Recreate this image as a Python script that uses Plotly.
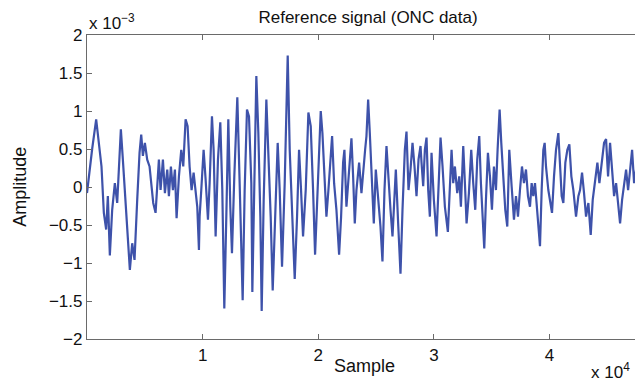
import plotly.graph_objects as go

# Sample index (turning points) and amplitude in units of 1e-3
samples_a = [1,159,447,794,1024,1255,1457,1659,1804,1977,2179,2410,2612,2756,2929,3102,3275,3478,3708,3910,
             4112,4343,4545,4690,4834,5007,5209,5411,5584,5729,5931,6075,6219,6364,6566,6739,6941,7085,7258,7431,
             7604,7749,7951,8153,8326,8528,8701,8874,9047,9221,9394,9538,9682]
amp_a = [-0.08,0.14,0.5,0.89,0.54,0.27,-0.34,-0.56,-0.12,-0.9,-0.3,0.05,-0.21,0.27,0.76,0.36,-0.08,-0.56,-1.09,-0.74,
         -0.96,-0.17,0.45,0.69,0.41,0.58,0.36,0.27,0.05,-0.21,-0.34,0.05,0.36,-0.04,0.36,-0.08,0.23,-0.12,0.27,-0.04,
         0.23,-0.41,0.14,0.49,0.27,0.89,0.80,0.27,-0.04,0.19,-0.08,-0.26,-0.83]

samples_b = [9740,9884,10086,10259,10462,10606,10808,10952,11125,11327,11529,11702,11876,12049,12222,12395,12539,12741,13001,13203,
             13463,13636,13838,14011,14213,14300,14444,14646,14819,14993,15108,15281,15512,15685,15887,16060,16262,16493,16666,16868,
             17099,17359,17532,17763,17965,18167,18340,18513,18687,18917,19148,19350]
amp_b = [-0.39,-0.04,0.49,0.10,-0.43,0.05,0.93,0.49,-0.65,0.36,0.85,-0.04,-1.6,-0.39,0.89,-0.26,-0.87,0.14,1.18,0.05,
         -1.49,-0.04,1.02,0.93,0.05,-1.38,-0.08,1.46,0.71,-0.39,-1.63,-0.17,1.15,0.49,-0.39,-1.36,-0.39,0.58,-0.04,-1.05,
         0.05,1.73,0.49,-0.39,-1.21,-0.39,0.49,-0.04,-0.65,-0.04,0.98,0.80]

samples_c = [19408,19553,19726,19899,20072,20216,20361,20534,20707,20880,21053,21198,21371,21573,21804,21977,22150,22265,22439,22641,
             22872,23016,23160,23304,23535,23737,23882,24055,24170,24315,24459,24632,24805,24978,25180,25382,25555,25729,25902,26075,
             26248,26421,26566,26710,26912,27114,27287,27489,27633,27807,27980,28153,28326,28499,28672,28846]
amp_c = [0.58,-0.04,-0.89,-0.17,0.67,1.0,0.71,0.05,-0.39,-0.04,0.36,0.67,0.05,-0.3,-0.89,-0.39,0.32,0.49,-0.26,0.14,
         0.64,0.14,-0.48,-0.04,0.32,-0.08,0.23,0.49,0.67,1.15,0.71,0.10,-0.48,0.23,-0.12,-0.52,-0.98,-0.04,0.54,0.05,
         -0.3,-0.65,-0.17,0.23,-0.48,-1.14,-0.3,0.49,0.73,-0.04,0.23,0.58,0.27,-0.12,0.36,0.54]

samples_d = [28932,29077,29221,29365,29510,29654,29798,30000,30231,30404,30577,30750,30953,31212,31385,31530,31674,31818,32020,32193,
             32338,32540,32684,32828,33030,33232,33406,33579,33752,33925,34069,34214,34358,34502,34675,34849,35022,35195,35368,35512,
             35686,35830,36003,36176,36349,36522,36725,36927,37100,37273,37446,37619,37792,37965,38139,38312,38456]
amp_d = [0.32,0.01,0.49,0.65,-0.04,-0.39,0.45,-0.17,-0.65,0.05,0.65,0.27,-0.26,-0.59,0.05,0.49,0.05,0.27,-0.08,0.14,
         -0.26,0.54,0.05,-0.48,-0.08,0.49,0.05,-0.3,0.36,0.67,0.05,-0.48,-0.81,-0.17,0.45,0.14,-0.3,0.27,-0.04,0.49,
         1.02,0.58,0.05,-0.3,-0.52,0.49,0.01,-0.43,-0.12,-0.39,-0.04,0.27,0.05,0.23,-0.12,-0.26,0.05]

samples_e = [38601,38745,38889,39034,39178,39322,39466,39582,39697,39899,40044,40217,40390,40563,40765,40909,41054,41198,41371,41544,
             41717,41891,42064,42295,42497,42641,42814,42987,43160,43363,43565,43738,43940,44142,44315,44517,44719,44892,45065,45238,
             45412,45585,45758,45931,46104,46277,46450,46624,46797,46970,47143,47316,47489,47662,47835,48000]
amp_e = [-0.12,0.05,-0.26,-0.52,-0.78,-0.04,0.49,0.58,0.27,-0.04,-0.17,-0.34,0.14,0.49,0.71,0.27,-0.12,-0.21,0.32,0.49,
         0.56,0.14,-0.04,-0.39,-0.12,-0.04,0.19,-0.08,-0.39,-0.21,-0.63,-0.17,0.05,0.32,0.05,0.36,0.58,0.63,0.14,0.58,
         0.19,-0.12,0.05,-0.26,-0.48,-0.17,0.05,0.23,-0.04,0.27,0.49,0.05,0.23,0.05,0.14,-0.83]

x_tick_vals = [10000, 20000, 30000, 40000]
x_tick_text = ["1", "2", "3", "4"]
y_tick_vals = [-2, -1.5, -1, -0.5, 0, 0.5, 1, 1.5, 2]
y_tick_text = ["\u22122", "\u22121.5", "\u22121", "\u22120.5", "0", "0.5", "1", "1.5", "2"]

samples = samples_a + samples_b + samples_c + samples_d + samples_e
amp = amp_a + amp_b + amp_c + amp_d + amp_e

FONT = "Liberation Sans, Arial, Helvetica, sans-serif"
AXCOL = "#6a6a6a"
TXT = "#111111"

fig = go.Figure()
fig.add_trace(go.Scatter(x=samples, y=amp, mode="lines",
                         line=dict(color="rgb(62,82,170)", width=2.2),
                         showlegend=False, hoverinfo="skip"))

axis_common = dict(showline=True, linecolor=AXCOL, linewidth=1.3, mirror="ticks",
                   ticks="inside", ticklen=5, tickcolor=AXCOL, showgrid=False, zeroline=False,
                   tickfont=dict(family=FONT, size=17, color=TXT))

fig.update_xaxes(range=[1, 48000], tickvals=x_tick_vals, ticktext=x_tick_text, **axis_common)
fig.update_yaxes(range=[-2, 2], tickvals=y_tick_vals, ticktext=y_tick_text, **axis_common)

# page body has an 8px margin, so the figure is 8px smaller and offset
fig.update_layout(
    width=635, height=373,
    margin=dict(l=79, r=1, t=27, b=42),
    paper_bgcolor="white", plot_bgcolor="white",
    font=dict(family=FONT, size=17, color=TXT),
    title=dict(text="Reference signal (ONC data)", x=0.567, xanchor="center", y=0.975, yanchor="middle",
               font=dict(family=FONT, size=17, color=TXT)),
    annotations=[
        dict(text="x 10<sup>\u22123</sup>", xref="paper", yref="paper", x=0.0, y=1.0,
             xanchor="left", yanchor="bottom", showarrow=False, font=dict(family=FONT, size=17, color=TXT)),
        dict(text="x 10<sup>4</sup>", xref="paper", yref="paper", x=0.905, y=-0.064,
             xanchor="left", yanchor="top", showarrow=False, font=dict(family=FONT, size=17, color=TXT)),
        dict(text="Sample", xref="paper", yref="paper", x=0.5, y=-0.088,
             xanchor="center", yanchor="middle", showarrow=False, font=dict(family=FONT, size=18, color=TXT)),
        dict(text="Amplitude", xref="paper", yref="paper", x=-0.121, y=0.5, textangle=-90,
             xanchor="center", yanchor="middle", showarrow=False, font=dict(family=FONT, size=18, color=TXT)),
    ],
)

fig.write_html("out.html")
